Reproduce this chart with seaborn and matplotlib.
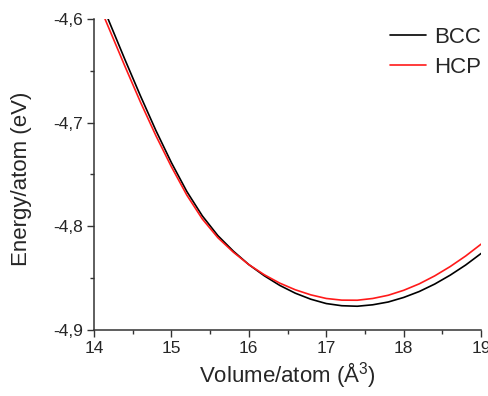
import numpy as np
import pandas as pd
import matplotlib
matplotlib.use('Agg')
import matplotlib.pyplot as plt
from matplotlib.ticker import MultipleLocator, FuncFormatter
import seaborn as sns

# volume grid (A^3 per atom) and energies
volume = [14.0, 14.2, 14.4, 14.6, 14.8, 15.0, 15.2, 15.4, 15.6, 15.8,
          16.0, 16.2, 16.4, 16.6, 16.8, 17.0, 17.2, 17.4, 17.6, 17.8,
          18.0, 18.2, 18.4, 18.6, 18.8, 19.0]
energy_bcc = [-4.5670, -4.6030, -4.6390, -4.6740, -4.7075, -4.7385, -4.7665,
              -4.7900, -4.8090, -4.8240, -4.8370, -4.8478, -4.8571, -4.8646,
              -4.8704, -4.8746, -4.8767, -4.8772, -4.8758, -4.8731, -4.8687,
              -4.8630, -4.8558, -4.8472, -4.8374, -4.8262]
energy_hcp = [-4.5745, -4.6100, -4.6455, -4.6800, -4.7125, -4.7425, -4.7700,
              -4.7930, -4.8110, -4.8250, -4.8370, -4.8468, -4.8549, -4.8613,
              -4.8662, -4.8697, -4.8713, -4.8714, -4.8697, -4.8666, -4.8618,
              -4.8556, -4.8479, -4.8389, -4.8287, -4.8172]
phases = ['BCC', 'HCP']
colors = {'BCC': 'black', 'HCP': '#ff1a1a'}

df = pd.DataFrame({
    'volume': volume * 2,
    'energy': energy_bcc + energy_hcp,
    'phase': ['BCC'] * len(volume) + ['HCP'] * len(volume),
})

sns.set_style('ticks')
plt.rcParams['font.family'] = ['Liberation Sans', 'DejaVu Sans']
plt.rcParams['mathtext.default'] = 'regular'
plt.rcParams['axes.unicode_minus'] = False

fig = plt.figure(figsize=(4.89, 3.96), dpi=100)
ax = fig.add_axes([0.192, 0.167, 0.792, 0.785])

sns.lineplot(data=df, x='volume', y='energy', hue='phase', hue_order=phases,
             palette=colors, linewidth=1.2, ax=ax)

ax.set_xlim(14, 19)
ax.set_ylim(-4.9, -4.6)
ax.xaxis.set_major_locator(MultipleLocator(1))
ax.xaxis.set_minor_locator(MultipleLocator(0.5))
ax.yaxis.set_major_locator(MultipleLocator(0.1))
ax.yaxis.set_minor_locator(MultipleLocator(0.05))
ax.yaxis.set_major_formatter(FuncFormatter(lambda v, p: f'{v:.1f}'.replace('.', ',')))
ax.xaxis.set_major_formatter(FuncFormatter(lambda v, p: f'{v:.0f}'))

ax.tick_params(which='major', direction='out', length=5, width=1, labelsize=12.5, pad=3, color='#333333')
ax.tick_params(which='minor', direction='out', length=3, width=1, color='#333333')
for side in ['top', 'right']:
    ax.spines[side].set_visible(False)
for side in ['left', 'bottom']:
    ax.spines[side].set_linewidth(1.1)
    ax.spines[side].set_color('#333333')

ax.set_xlabel('Volume/atom (Å$^{3}$)', fontsize=16, labelpad=3)
ax.set_ylabel('Energy/atom (eV)', fontsize=16)
ax.yaxis.set_label_coords(-0.16, 0.485)

leg = ax.legend(loc='upper right', bbox_to_anchor=(1.0, 0.975), frameon=False,
                fontsize=16, handlelength=1.65, handletextpad=0.35,
                labelspacing=0.42, borderaxespad=0, borderpad=0)

fig.savefig('out.png', dpi=100)
